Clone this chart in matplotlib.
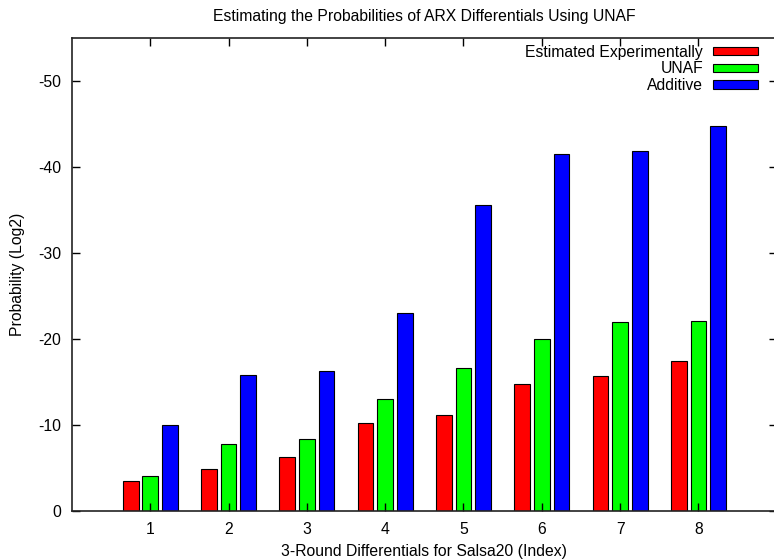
import matplotlib
matplotlib.use("Agg")
import matplotlib.pyplot as plt
import numpy as np

plt.rcParams['font.family'] = ['Liberation Sans', 'DejaVu Sans']
plt.rcParams['axes.unicode_minus'] = False

# Dados
indices = [1, 2, 3, 4, 5, 6, 7, 8]
experimental = [-3.4, -4.9, -6.3, -10.2, -11.1, -14.7, -15.7, -17.4]
unaf = [-4.0, -7.7, -8.3, -13.0, -16.6, -20.0, -21.9, -22.1]
additive = [-10.0, -15.8, -16.3, -23.0, -35.6, -41.5, -41.8, -44.7]
series_labels = ['Estimated Experimentally', 'UNAF', 'Additive']
y_ticks = [0, -10, -20, -30, -40, -50]

fs = 11.3
fig = plt.figure(figsize=(7.74, 5.59), dpi=100)
ax = fig.add_axes([72 / 774, 1 - 510.7 / 559, 704.7 / 774, 473 / 559])

x = np.array(indices)
w = 0.2
off = 0.25
ax.bar(x - off, experimental, w, color='#ff0000', edgecolor='black', linewidth=0.8, label=series_labels[0])
ax.bar(x, unaf, w, color='#00ff00', edgecolor='black', linewidth=0.8, label=series_labels[1])
ax.bar(x + off, additive, w, color='#0000ff', edgecolor='black', linewidth=0.8, label=series_labels[2])

ax.set_xlim(0, 9)
ax.set_ylim(0, -55)
ax.set_xticks(indices)
ax.set_yticks(y_ticks)
ax.tick_params(direction='in', length=6, width=1, top=True, right=True,
               labelsize=fs, pad=8, colors='black')
for s in ax.spines.values():
    s.set_linewidth(1.2)
    s.set_color('#222222')

ax.set_title('Estimating the Probabilities of ARX Differentials Using UNAF', fontsize=fs, pad=12)
ax.set_xlabel('3-Round Differentials for Salsa20 (Index)', fontsize=fs, labelpad=5)
ax.set_ylabel('Probability (Log2)', fontsize=fs, labelpad=9)

ax.legend(loc='upper right', bbox_to_anchor=(0.9735, 0.985), frameon=False,
          markerfirst=False, fontsize=fs, handlelength=2.85, handleheight=0.45,
          handletextpad=0.65, labelspacing=0.1, borderpad=0, borderaxespad=0)

plt.savefig('out.png', dpi=100)
